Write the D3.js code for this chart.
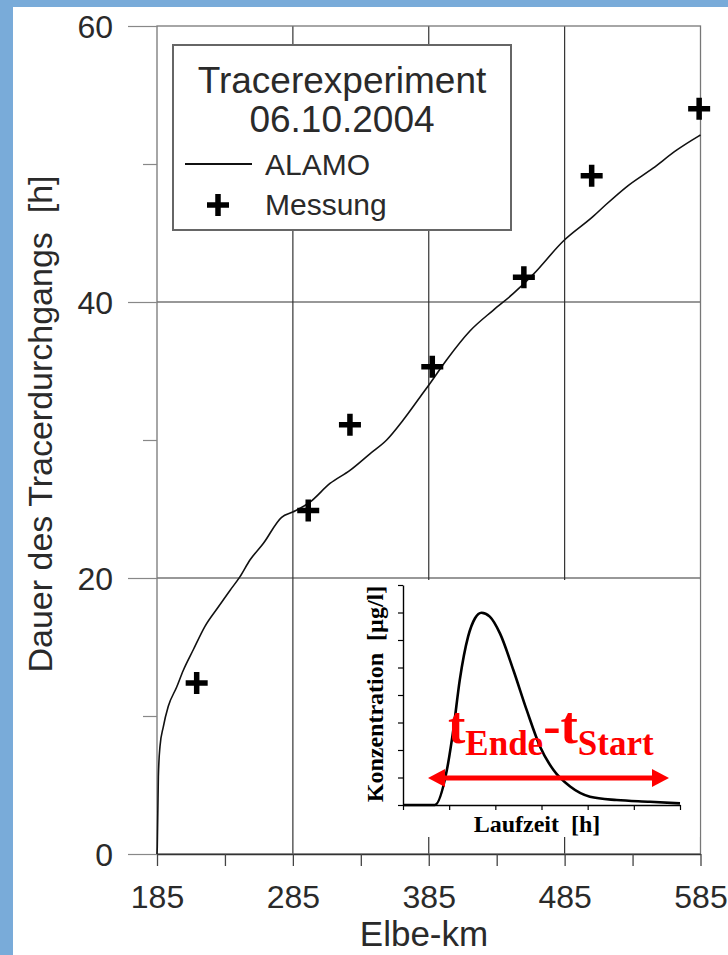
<!DOCTYPE html>
<html><head><meta charset="utf-8">
<script src="https://cdn.jsdelivr.net/npm/d3@7"></script>
<style>body{margin:0;background:#fff}svg{display:block}</style>
</head><body><svg id="c" width="728" height="955"></svg>
<script>
// ---- data ----
const alamoKm = [185,185.2,186.0,187.2,189.6,193.3,199.5,204.3,211.7,220.3,230.1,238.7,246.1,253.4,263.2,276.7,285.3,297.6,312.3,327.0,341.7,354.0,366.2,378.5,385.9,398.1,415.3,432.4,447.1,461.9,483.9,506.0,515.9,530.6,550.1,567.4,583.3,585];
const alamoH  = [0,0.5,5.6,7.8,9.2,10.7,12.1,13.3,14.8,16.5,17.9,19.1,20.1,21.3,22.5,24.4,24.8,25.5,26.85,27.8,29.0,30.0,31.45,33.1,34.1,35.8,37.9,39.4,40.6,42.0,44.4,46.2,47.1,48.35,49.7,51.0,52.0,52.1];
const messKm = [214.2,296.3,327.0,387.6,455.0,504.9,584.0];
const messH  = [12.4,24.9,31.1,35.3,41.8,49.15,54.0];
const xTickLabels = [185,285,385,485,585];
const yTickLabels = [0,20,40,60];
const insetT = [0,0.69,0.95,1.09,1.23,1.41,1.56,1.70,1.88,2.10,2.39,2.68,2.97,3.26,3.62,4.05,4.63,5.35,6.0];
const insetC = [0,0,1.27,2.73,4.55,6.12,6.79,6.99,6.85,6.24,4.91,3.45,2.12,1.27,0.67,0.30,0.18,0.12,0.06];
const legendTitle = ["Tracerexperiment","06.10.2004"];
const seriesNames = ["ALAMO","Messung"];

const svg = d3.select("#c");
const sans = "'Liberation Sans', Arial, sans-serif";
const serif = "'Liberation Serif', 'Times New Roman', serif";
const txt = "#2a2a2a";

// border
svg.append("rect").attr("x",0).attr("y",0).attr("width",728).attr("height",955).attr("fill","#fff");
svg.append("rect").attr("x",0).attr("y",0).attr("width",13).attr("height",955).attr("fill","#79abd9");
svg.append("rect").attr("x",0).attr("y",0).attr("width",728).attr("height",7).attr("fill","#79abd9");

const x = d3.scaleLinear().domain([185,585]).range([157,700.5]);
const y = d3.scaleLinear().domain([0,60]).range([854,26]);

// grid
const gGrid = svg.append("g").attr("stroke","#333").attr("stroke-width",1.2);
[285,385,485].forEach(v=>gGrid.append("line").attr("x1",x(v)).attr("x2",x(v)).attr("y1",y(0)).attr("y2",y(60)));
[20,40].forEach(v=>gGrid.append("line").attr("x1",x(185)).attr("x2",x(585)).attr("y1",y(v)).attr("y2",y(v)));

// frame
svg.append("rect").attr("x",x(185)).attr("y",y(60)).attr("width",x(585)-x(185)).attr("height",y(0)-y(60))
  .attr("fill","none").attr("stroke","#777").attr("stroke-width",1.3);

// x axis
const xAxis = d3.axisBottom(x).tickValues(d3.range(185,586,50)).tickSize(12).tickSizeOuter(0)
  .tickFormat(d=>xTickLabels.includes(d)?d:"");
const gx = svg.append("g").attr("transform",`translate(0,${y(0)})`).call(xAxis);
gx.select(".domain").attr("stroke","#333").attr("stroke-width",1.5);
gx.selectAll(".tick line").attr("stroke","#444").attr("stroke-width",1.3);
gx.selectAll(".tick text").attr("font-family",sans).attr("font-size",32).attr("fill",txt).attr("dy","0").attr("y",54);

// y axis
const yAxis = d3.axisLeft(y).tickValues(d3.range(0,61,10)).tickSize(0).tickSizeOuter(0)
  .tickFormat(d=>yTickLabels.includes(d)?d:"");
const gy = svg.append("g").attr("transform",`translate(${x(185)},0)`).call(yAxis);
gy.select(".domain").remove();
gy.selectAll(".tick line").attr("x2",d=>yTickLabels.includes(d)?-29:-14).attr("stroke","#888").attr("stroke-width",1.2);
gy.selectAll(".tick text").attr("font-family",sans).attr("font-size",32).attr("fill",txt).attr("x",-44).attr("dy","0.36em");

// axis titles
svg.append("text").attr("x",424).attr("y",946).attr("text-anchor","middle").attr("font-family",sans)
  .attr("font-size",35).attr("fill",txt).text("Elbe-km");
svg.append("text").attr("transform","translate(52,424) rotate(-90)").attr("text-anchor","middle")
  .attr("font-family",sans).attr("font-size",34).attr("fill",txt)
  .text("Dauer des Tracerdurchgangs\u00a0 [h]");

// legend
const lg = svg.append("g");
lg.append("rect").attr("x",173).attr("y",45).attr("width",338).attr("height",185).attr("fill","#fff")
  .attr("stroke","#666").attr("stroke-width",2);
lg.append("text").attr("x",342).attr("y",93).attr("text-anchor","middle").attr("font-family",sans)
  .attr("font-size",37).attr("fill",txt).text(legendTitle[0]);
lg.append("text").attr("x",342).attr("y",132).attr("text-anchor","middle").attr("font-family",sans)
  .attr("font-size",37).attr("fill",txt).text(legendTitle[1]);
lg.append("line").attr("x1",185).attr("x2",252).attr("y1",164).attr("y2",164).attr("stroke","#111").attr("stroke-width",1.8);
lg.append("text").attr("x",265).attr("y",175).attr("font-family",sans).attr("font-size",30).attr("fill",txt).text(seriesNames[0]);
lg.append("text").attr("x",265).attr("y",215).attr("font-family",sans).attr("font-size",30).attr("fill",txt).text(seriesNames[1]);
const crossPath = (cx,cy,h)=>`M${cx-h},${cy}H${cx+h}M${cx},${cy-h}V${cy+h}`;
lg.append("path").attr("d",crossPath(218,205,11)).attr("stroke","#000").attr("stroke-width",5.5).attr("fill","none");

// inset
const ig = svg.append("g");
ig.append("rect").attr("x",352).attr("y",580).attr("width",x(585)-1-352).attr("height",257).attr("fill","#fff");
const ix = d3.scaleLinear().domain([0,6]).range([403,680]);
const iy = d3.scaleLinear().domain([0,8]).range([805,585]);
const iax = ig.append("g").attr("transform","translate(0,805)")
  .call(d3.axisBottom(ix).tickValues(d3.range(0,7,1)).tickSize(5).tickSizeOuter(0).tickFormat(""));
iax.select(".domain").attr("stroke","#000").attr("stroke-width",1.4);
iax.selectAll(".tick line").attr("stroke","#000").attr("stroke-width",1.2);
const iay = ig.append("g").attr("transform","translate(403,0)")
  .call(d3.axisLeft(iy).tickValues(d3.range(0,9,1)).tickSize(5).tickSizeOuter(0).tickFormat(""));
iay.select(".domain").attr("stroke","#000").attr("stroke-width",1.4);
iay.selectAll(".tick line").attr("stroke","#000").attr("stroke-width",1.2);
const insetData = insetT.map((t,i)=>[t,insetC[i]]);
ig.append("path").datum(insetData).attr("fill","none").attr("stroke","#000").attr("stroke-width",2.6)
  .attr("stroke-linejoin","round").attr("d",d3.line().x(d=>ix(d[0])).y(d=>iy(d[1])).curve(d3.curveMonotoneX));
ig.append("text").attr("transform","translate(383,694) rotate(-90)").attr("text-anchor","middle")
  .attr("font-family",serif).attr("font-weight","bold").attr("font-size",24).attr("fill","#000")
  .text("Konzentration\u00a0 [µg/l]");
ig.append("text").attr("x",537).attr("y",832).attr("text-anchor","middle")
  .attr("font-family",serif).attr("font-weight","bold").attr("font-size",24).attr("fill","#000")
  .text("Laufzeit\u00a0 [h]");

// red arrow
const red = "#ff0000";
const ax1 = 428, ax2 = 669, ay = 778;
ig.append("line").attr("x1",ax1+12).attr("x2",ax2-12).attr("y1",ay).attr("y2",ay).attr("stroke",red).attr("stroke-width",5);
ig.append("path").attr("d",`M${ax1},${ay}L${ax1+17},${ay-9}L${ax1+17},${ay+9}Z`).attr("fill",red);
ig.append("path").attr("d",`M${ax2},${ay}L${ax2-17},${ay-9}L${ax2-17},${ay+9}Z`).attr("fill",red);
const rt = ig.append("text").attr("x",448).attr("y",743).attr("font-family",serif).attr("font-weight","bold").attr("fill",red);
rt.append("tspan").attr("font-size",52).text("t");
rt.append("tspan").attr("font-size",35).attr("dy",12).text("Ende");
rt.append("tspan").attr("font-size",52).attr("dy",-12).text("-t");
rt.append("tspan").attr("font-size",35).attr("dy",12).text("Start");

// ALAMO line
const gData = alamoKm.map((k,i)=>[k,alamoH[i]]);
svg.append("path").datum(gData).attr("fill","none").attr("stroke","#111").attr("stroke-width",1.6)
  .attr("stroke-linejoin","round").attr("d",d3.line().x(d=>x(d[0])).y(d=>y(d[1])).curve(d3.curveMonotoneX));

// measurements
svg.append("g").selectAll("path").data(messKm.map((k,i)=>[k,messH[i]])).join("path")
  .attr("d",d=>crossPath(x(d[0]),y(d[1]),11)).attr("stroke","#000").attr("stroke-width",5.5).attr("fill","none");
</script></body></html>
